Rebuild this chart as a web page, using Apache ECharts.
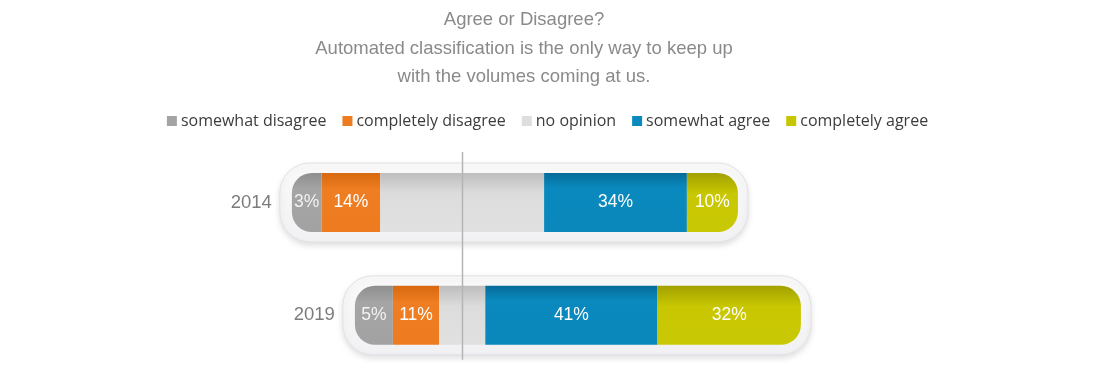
<!DOCTYPE html>
<html>
<head>
<meta charset="utf-8">
<script src="https://cdn.jsdelivr.net/npm/echarts@6/dist/echarts.min.js"></script>
<style>
html,body{margin:0;padding:0;background:#fff;}
#chart{width:1095px;height:383px;}
</style>
</head>
<body>
<div id="chart"></div>
<script>
// ---- data ----
const years = ['2014', '2019'];
const seriesNames = ['somewhat disagree', 'completely disagree', 'no opinion', 'somewhat agree', 'completely agree'];
const somewhatDisagree = [3, 5];
const completelyDisagree = [14, 11];
const noOpinion = [39, 11];
const somewhatAgree = [34, 41];
const completelyAgree = [10, 32];
const titleLines = ['Agree or Disagree?', 'Automated classification is the only way to keep up', 'with the volumes coming at us.'];

// ---- styling ----
const SANS = '"Liberation Sans", Arial, sans-serif';
const BAR_H = 59;
const CAP_L = 17, CAP_R = 9, RADIUS = 20;
const colors = ['#a4a4a4', '#ee7c20', '#dedede', '#0a89be', '#c7c602'];
const grads = [
  [[0, '#8e8e8e'], [0.28, '#a5a5a5'], [1, '#a2a2a2']],
  [[0, '#d8690f'], [0.28, '#ef7d21'], [1, '#ee7b1f']],
  [[0, '#bdbdbd'], [0.35, '#dcdcdc'], [1, '#e1e1e1']],
  [[0, '#066c98'], [0.25, '#0a89be'], [1, '#0a88bc']],
  [[0, '#a2a100'], [0.35, '#c8c702'], [1, '#c9c804']]
];

// stacked extents (diverging around no-opinion midpoint)
function segData(k) {
  return years.map((y, i) => {
    const h = noOpinion[i] / 2;
    let s, e, v;
    if (k === 0) { s = -h - completelyDisagree[i] - somewhatDisagree[i]; e = -h - completelyDisagree[i]; v = somewhatDisagree[i]; }
    if (k === 1) { s = -h - completelyDisagree[i]; e = -h; v = completelyDisagree[i]; }
    if (k === 2) { s = -h; e = h; v = noOpinion[i]; }
    if (k === 3) { s = h; e = h + somewhatAgree[i]; v = somewhatAgree[i]; }
    if (k === 4) { s = h + somewhatAgree[i]; e = h + somewhatAgree[i] + completelyAgree[i]; v = completelyAgree[i]; }
    return [s, e, i, v];
  });
}

function segSeries(k) {
  const capL = k === 0 ? CAP_L : 0;
  const capR = k === 4 ? CAP_R : 0;
  return {
    name: seriesNames[k],
    type: 'custom',
    coordinateSystem: 'cartesian2d',
    itemStyle: { color: colors[k] },
    encode: { x: [0, 1], y: 2 },
    z: 3,
    data: segData(k),
    renderItem: function (params, api) {
      const s = api.value(0), e = api.value(1), cat = api.value(2), v = api.value(3);
      const p0 = api.coord([s, cat]);
      const p1 = api.coord([e, cat]);
      const x0 = p0[0] - capL, x1 = p1[0] + capR;
      const yc = p0[1];
      const children = [{
        type: 'rect',
        shape: { x: x0, y: yc - BAR_H / 2, width: x1 - x0, height: BAR_H,
                 r: [capL ? RADIUS : 0, capR ? RADIUS : 0, capR ? RADIUS : 0, capL ? RADIUS : 0] },
        style: { fill: new echarts.graphic.LinearGradient(0, 0, 0, 1, grads[k].map(g => ({ offset: g[0], color: g[1] }))) }
      }];
      if (k !== 2) {
        children.push({
          type: 'text',
          x: (x0 + x1) / 2, y: yc,
          style: { text: v + '%', fill: k === 0 ? '#f2f2f2' : '#ffffff', font: '17.5px ' + SANS, align: 'center', verticalAlign: 'middle' }
        });
      }
      return { type: 'group', children: children };
    }
  };
}

// capsule background data
const capsuleData = years.map((y, i) => {
  const h = noOpinion[i] / 2;
  return [-h - completelyDisagree[i] - somewhatDisagree[i], h + somewhatAgree[i] + completelyAgree[i], i, y];
});

const chart = echarts.init(document.getElementById('chart'), null, { renderer: 'canvas' });
chart.setOption({
  animation: false,
  title: {
    text: titleLines.join('\n'),
    left: 519, top: 1, textAlign: 'center',
    textStyle: { fontFamily: SANS, fontSize: 18.5, fontWeight: 'normal', color: '#8a8a8a', lineHeight: 28.5 }
  },
  legend: {
    data: seriesNames,
    left: 'center', top: 108,
    itemWidth: 10, itemHeight: 10, itemGap: 16,
    icon: 'rect',
    textStyle: { fontFamily: '"Open Sans", sans-serif', fontSize: 16, color: '#3c3c3c', padding: [0, 0, 0, -1] }
  },
  grid: { left: 42.2, width: 840, top: 146.1, height: 225.6 },
  xAxis: { type: 'value', min: -100, max: 100, show: false },
  yAxis: { type: 'category', data: years, inverse: true, show: false },
  series: [
    {
      type: 'custom', name: 'capsule', coordinateSystem: 'cartesian2d', z: 1,
      encode: { x: [0, 1], y: 2 },
      data: capsuleData,
      renderItem: function (params, api) {
        const p0 = api.coord([api.value(0), api.value(2)]);
        const p1 = api.coord([api.value(1), api.value(2)]);
        const x0 = p0[0] - CAP_L - 12, x1 = p1[0] + CAP_R + 10;
        const yc = p0[1];
        const H = 79;
        return {
          type: 'group',
          children: [
            {
              type: 'rect',
              shape: { x: x0, y: yc - H / 2, width: x1 - x0, height: H, r: 30 },
              style: {
                fill: new echarts.graphic.LinearGradient(0, 0, 0, 1, [
                  { offset: 0, color: '#fafafb' }, { offset: 1, color: '#f1f1f3' }]),
                stroke: '#e2e2e6', lineWidth: 1,
                shadowColor: 'rgba(0,0,0,0.13)', shadowBlur: 6, shadowOffsetY: 3
              }
            },
            {
              type: 'text',
              x: x0 - 8, y: yc,
              style: { text: api.value(3) + '', fill: '#7c7c7c', font: '18.5px ' + SANS, align: 'right', verticalAlign: 'middle' }
            }
          ]
        };
      }
    },
    segSeries(0), segSeries(1), segSeries(2), segSeries(3), segSeries(4),
    {
      type: 'custom', name: 'axis0', coordinateSystem: 'cartesian2d', z: 10,
      encode: { x: 0, y: 1 },
      data: [[0, 0]],
      renderItem: function (params, api) {
        const x = Math.round(api.coord([0, 0])[0]) + 0.5;
        const cs = params.coordSys;
        return {
          type: 'line',
          shape: { x1: x, y1: cs.y + 6, x2: x, y2: cs.y + cs.height - 12 },
          style: { stroke: '#b4b4b4', lineWidth: 1.5 }
        };
      }
    }
  ]
});
</script>
</body>
</html>
